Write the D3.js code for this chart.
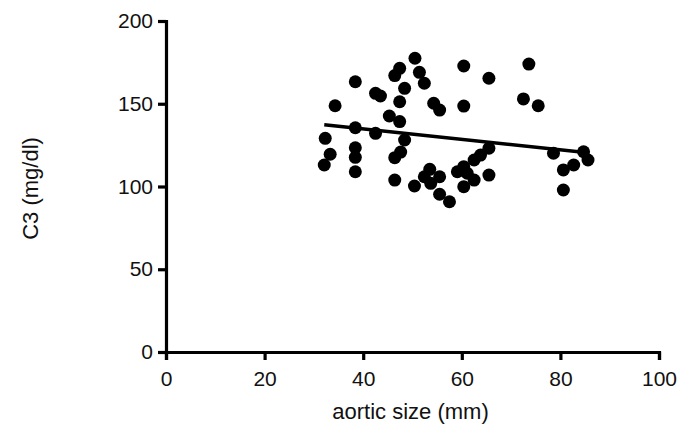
<!DOCTYPE html>
<html>
<head>
<meta charset="utf-8">
<script src="https://cdn.jsdelivr.net/npm/d3@7"></script>
<style>
  body { margin: 0; background: #fff; }
  svg text { font-family: "Liberation Sans", Arial, sans-serif; fill: #111; }
</style>
</head>
<body>
<svg id="chart" width="684" height="439"></svg>
<script>
// aortic size (mm) vs C3 (mg/dl)
const aorticSize = [
  50.5, 47.4, 46.4, 51.4, 52.4, 60.4, 65.5, 38.4, 42.5, 43.5,
  48.4, 47.4, 34.3, 54.3, 55.5, 60.4, 45.3, 47.4, 38.4, 42.5,
  48.4, 32.3, 33.3, 32.1, 38.4, 38.4, 38.4, 46.4, 47.6, 46.4,
  50.4, 53.5, 52.4, 55.5, 53.7, 55.5, 57.5, 60.4, 62.5, 63.8,
  65.5, 61.1, 62.5, 60.4, 59.1, 65.5, 73.6, 72.5, 75.5, 78.6,
  84.7, 85.6, 82.7, 80.6, 80.6,
];
const c3 = [
  177.5, 171.4, 167.0, 169.0, 162.4, 172.8, 165.4, 163.3, 156.3, 154.7,
  159.3, 151.2, 148.8, 150.3, 146.2, 148.6, 142.6, 139.2, 135.5, 132.1,
  128.1, 129.1, 119.5, 113.0, 123.4, 117.6, 108.9, 117.4, 120.8, 103.9,
  100.3, 110.4, 105.9, 105.9, 101.9, 95.3, 90.8, 112.0, 116.0, 119.0,
  123.1, 108.0, 103.9, 99.9, 108.9, 106.9, 174.0, 152.9, 148.8, 120.1,
  121.0, 116.0, 113.0, 110.0, 97.9,
];

// fitted line as printed in the figure
const fitSlope = -0.315;
const fitIntercept = 147.4;

const xTicks = [0, 20, 40, 60, 80, 100];
const yTicks = [0, 50, 100, 150, 200];

const margin = { top: 21, right: 25, bottom: 87, left: 166 };
const svg = d3.select('#chart');
const width = 684 - margin.left - margin.right;
const height = 439 - margin.top - margin.bottom;
const g = svg.append('g').attr('transform', `translate(${margin.left},${margin.top})`);

const x = d3.scaleLinear().domain([0, 100]).range([0, width]);
const y = d3.scaleLinear().domain([0, 200]).range([height, 0]);

const points = aorticSize.map((v, i) => ({ x: v, y: c3[i] }));

// regression line over the data range
const xr = d3.extent(aorticSize);
g.append('line')
  .attr('x1', x(xr[0]))
  .attr('y1', y(fitIntercept + fitSlope * xr[0]))
  .attr('x2', x(xr[1]))
  .attr('y2', y(fitIntercept + fitSlope * xr[1]))
  .attr('stroke', '#000')
  .attr('stroke-width', 3.5);

g.selectAll('circle')
  .data(points)
  .join('circle')
  .attr('cx', (d) => x(d.x))
  .attr('cy', (d) => y(d.y))
  .attr('r', 6.5)
  .attr('fill', '#000');

const xAxis = g.append('g')
  .attr('transform', `translate(0,${height})`)
  .call(d3.axisBottom(x).tickValues(xTicks).tickSize(8).tickPadding(11));
const yAxis = g.append('g')
  .call(d3.axisLeft(y).tickValues(yTicks).tickSize(8).tickPadding(5));

[xAxis, yAxis].forEach((ax) => {
  ax.select('.domain').attr('stroke', '#000').attr('stroke-width', 3.2);
  ax.selectAll('.tick line').attr('stroke', '#000').attr('stroke-width', 3.2);
  ax.selectAll('.tick text')
    .attr('font-size', 21)
    .attr('font-family', '"Liberation Sans", Arial, sans-serif')
    .attr('fill', '#111');
});

svg.append('text')
  .attr('x', margin.left + width / 2 - 2)
  .attr('y', 419)
  .attr('text-anchor', 'middle')
  .attr('font-size', 22)
  .text('aortic size (mm)');

svg.append('text')
  .attr('transform', `translate(38,${margin.top + height / 2 + 2}) rotate(-90)`)
  .attr('text-anchor', 'middle')
  .attr('font-size', 22)
  .text('C3 (mg/dl)');
</script>
</body>
</html>
